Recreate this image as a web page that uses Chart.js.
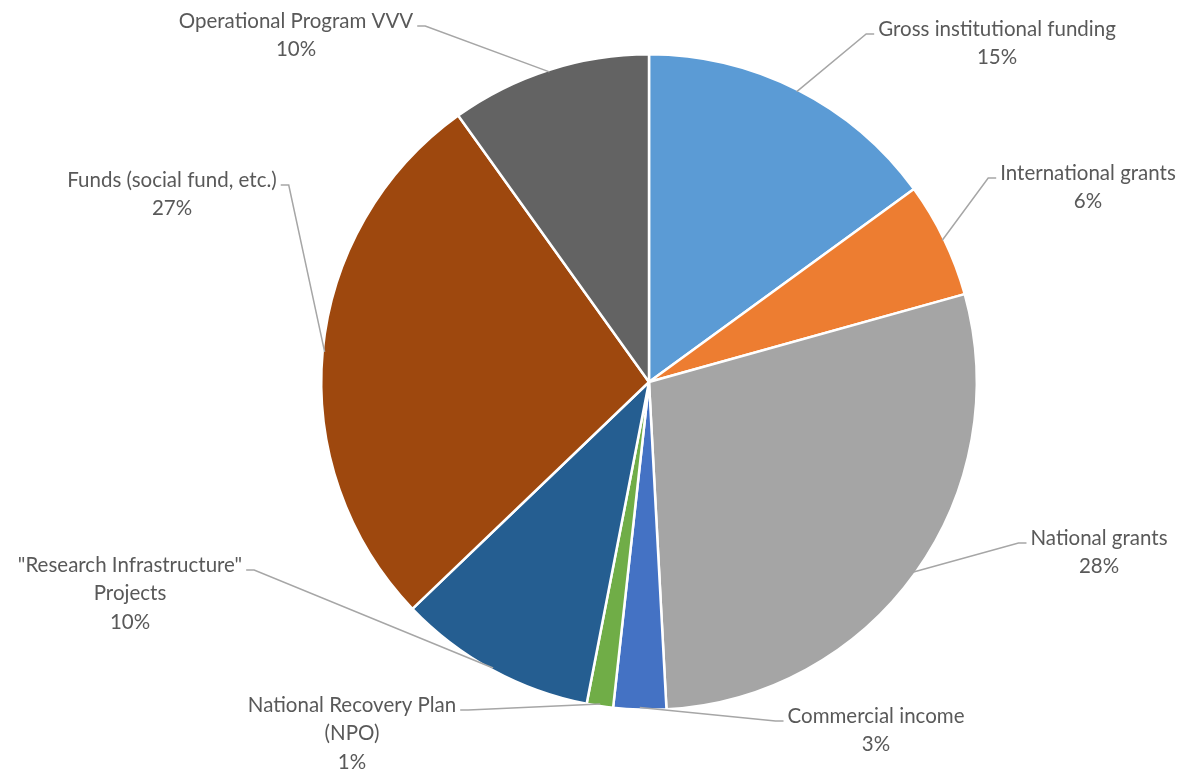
<!DOCTYPE html>
<html>
<head>
<meta charset="utf-8">
<script src="https://cdn.jsdelivr.net/npm/chart.js@4"></script>
<style>
  html, body { margin: 0; padding: 0; background: #fff; }
  #wrap { width: 1189px; height: 772px; }
</style>
</head>
<body>
<div id="wrap"><canvas id="pie"></canvas></div>
<script>
// Funding sources (share of total, %)
const categories = [
    "Gross institutional funding",
    "International grants",
    "National grants",
    "Commercial income",
    "National Recovery Plan (NPO)",
    "\"Research Infrastructure\" Projects",
    "Funds (social fund, etc.)",
    "Operational Program VVV"
];
const shares = [15.0, 5.7, 28.5, 2.6, 1.3, 9.8, 27.3, 9.9];
const shareLabels = ["15%", "6%", "28%", "3%", "1%", "10%", "27%", "10%"];
const labelLines = [
    ["Gross institutional funding"],
    ["International grants"],
    ["National grants"],
    ["Commercial income"],
    ["National Recovery Plan", "(NPO)"],
    ["\"Research Infrastructure\"", "Projects"],
    ["Funds (social fund, etc.)"],
    ["Operational Program VVV"]
];
const colors = ["#5B9BD5", "#ED7D31", "#A5A5A5", "#4472C4", "#70AD47", "#255E91", "#9E480E", "#636363"];

// where each outside label sits: text centre x, first line y, side of the elbow
const labelLayout = [
    { x: 997, y: 29, side: "left" },
    { x: 1088, y: 173, side: "left" },
    { x: 1099, y: 538, side: "left" },
    { x: 876, y: 716, side: "left" },
    { x: 352, y: 705, side: "right" },
    { x: 130, y: 565, side: "right" },
    { x: 172, y: 180, side: "right" },
    { x: 296, y: 21, side: "right" }
];

const FONT = "20.5px Lato, 'Open Sans', sans-serif";
const LINE_H = 28.5;

// Draw the outside labels and their leader lines
const outsideLabels = {
    id: "outsideLabels",
    afterDatasetsDraw(chart) {
        const ctx = chart.ctx;
        const arcs = chart.getDatasetMeta(0).data;
        ctx.save();
        ctx.font = FONT;
        ctx.textAlign = "center";
        ctx.textBaseline = "middle";
        arcs.forEach((arc, i) => {
            const p = arc.getProps(["x", "y", "startAngle", "endAngle", "outerRadius"], true);
            const mid = (p.startAngle + p.endAngle) / 2;
            const r = p.outerRadius - 2;
            const ax = p.x + Math.cos(mid) * r;
            const ay = p.y + Math.sin(mid) * r;
            const lay = labelLayout[i];
            const w = ctx.measureText(labelLines[i][0]).width;
            const ey = lay.y + 5;
            let ex, elbow;
            if (lay.side === "left") {
                ex = lay.x - w / 2 - 4;
                elbow = ex - 8;
            } else {
                ex = lay.x + w / 2 + 4;
                elbow = ex + 8;
            }
            ctx.strokeStyle = "#A6A6A6";
            ctx.lineWidth = 1.5;
            ctx.beginPath();
            ctx.moveTo(ex, ey);
            ctx.lineTo(elbow, ey);
            ctx.lineTo(ax, ay);
            ctx.stroke();

            ctx.fillStyle = "#595959";
            const lines = labelLines[i].concat([shareLabels[i]]);
            lines.forEach((t, k) => ctx.fillText(t, lay.x, lay.y + k * LINE_H));
        });
        ctx.restore();
    }
};

new Chart(document.getElementById("pie"), {
    type: "pie",
    data: {
        labels: categories,
        datasets: [{
            data: shares,
            backgroundColor: colors,
            borderColor: "#ffffff",
            borderWidth: 2.5
        }]
    },
    options: {
        responsive: true,
        maintainAspectRatio: false,
        animation: false,
        layout: { padding: { top: 53, bottom: 61, left: 320, right: 211 } },
        plugins: {
            legend: { display: false },
            tooltip: { enabled: false }
        }
    },
    plugins: [outsideLabels]
});
</script>
</body>
</html>
